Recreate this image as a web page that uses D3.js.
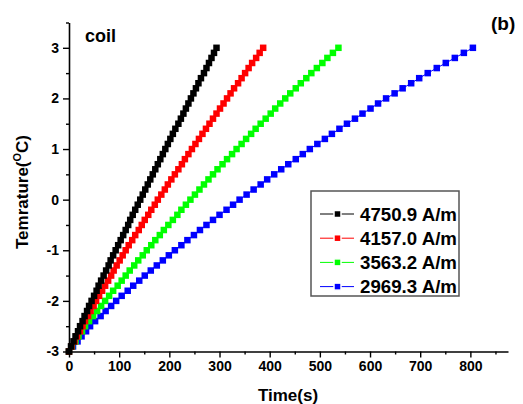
<!DOCTYPE html>
<html><head><meta charset="utf-8">
<script src="https://cdn.jsdelivr.net/npm/d3@7"></script>
<style>
html,body{margin:0;padding:0;background:#fff;}
svg{display:block;font-family:"Liberation Sans",Arial,sans-serif;font-weight:bold;}
</style></head>
<body>
<svg id="chart" width="523" height="404"></svg>
<script>
// Temperature grid (°C) shared by all series
const temps = [-3.0,-2.9,-2.8,-2.7,-2.6,-2.5,-2.4,-2.3,-2.2,-2.1,-2.0,-1.9,-1.8,-1.7,-1.6,-1.5,-1.4,-1.3,-1.2,-1.1,-1.0,-0.9,-0.8,-0.7,-0.6,-0.5,-0.4,-0.3,-0.2,-0.1,0.0,0.1,0.2,0.3,0.4,0.5,0.6,0.7,0.8,0.9,1.0,1.1,1.2,1.3,1.4,1.5,1.6,1.7,1.8,1.9,2.0,2.1,2.2,2.3,2.4,2.5,2.6,2.7,2.8,2.9,3.0];
// Time (s) at each temperature
const t4750 = [0,4,9,13,18,22,27,31,36,40,45,50,55,59,64,69,74,79,83,88,93,98,103,108,113,118,122,127,132,137,142,147,152,157,162,167,172,177,182,187,192,197,202,207,212,218,223,228,233,238,243,248,253,258,263,269,274,279,284,289,294];
const t4157 = [0,5,11,16,22,27,32,38,43,49,54,60,66,72,78,84,89,95,101,107,113,119,126,132,139,145,151,158,164,171,177,184,191,197,204,211,218,225,231,238,245,252,259,266,273,280,287,294,301,308,315,322,329,337,344,351,358,365,373,380,387];
const t3563 = [0,6,13,19,26,32,40,48,56,64,72,80,88,97,105,113,121,130,138,147,155,164,172,181,189,198,207,216,224,233,242,251,260,269,278,287,296,306,315,325,334,344,353,363,372,382,392,402,411,421,431,441,452,462,473,483,494,505,515,526,537];
const t2969 = [0,8,17,25,34,42,52,63,73,84,94,105,117,128,140,151,163,175,187,199,211,224,236,249,261,274,287,300,314,327,340,354,368,382,395,409,423,437,452,466,480,495,510,524,539,554,570,585,601,616,632,649,665,682,698,715,733,751,769,787,805];

const seriesNames = ["4750.9 A/m","4157.0 A/m","3563.2 A/m","2969.3 A/m"];
const seriesColors = ["#000000","#ff0000","#00ff00","#0000ff"];
const seriesTimes = [t4750, t4157, t3563, t2969];

const xTicks = [0,100,200,300,400,500,600,700,800];
const yTicks = [-3,-2,-1,0,1,2,3];
const yTickLabels = ["-3","-2","-1","0","1","2","3"];

const svg = d3.select("#chart");
const x = d3.scaleLinear().domain([0, 875]).range([69, 508]);
const y = d3.scaleLinear().domain([-3, 3.5]).range([351.5, 22.5]);

// series (lines + square markers); draw blue first so black stays on top
const order = [3,2,1,0];
const line = d3.line().x(d => x(d[0])).y(d => y(d[1]));
order.forEach(i => {
  const pts = seriesTimes[i].map((t, k) => [t, temps[k]]);
  const g = svg.append("g");
  g.append("path").attr("d", line(pts)).attr("fill", "none")
    .attr("stroke", seriesColors[i]).attr("stroke-width", 1);
  const s = 6.5;
  g.selectAll("rect").data(pts).enter().append("rect")
    .attr("x", d => x(d[0]) - s/2).attr("y", d => y(d[1]) - s/2)
    .attr("width", s).attr("height", s).attr("fill", seriesColors[i]);
});

// axes
const xMinor = d3.range(50, 875, 100);
const yMinor = [-2.5,-1.5,-0.5,0.5,1.5,2.5,3.5];

const xAxis = svg.append("g").attr("transform", "translate(0,351.5)")
  .call(d3.axisBottom(x).tickValues(xTicks).tickFormat(d => String(d))
    .tickSize(6).tickSizeOuter(0).tickPadding(3));
svg.append("g").attr("transform", "translate(0,351.5)")
  .call(d3.axisBottom(x).tickValues(xMinor).tickSize(3).tickFormat("").tickSizeOuter(0))
  .select(".domain").remove();
const yAxis = svg.append("g").attr("transform", "translate(69,0)")
  .call(d3.axisLeft(y).tickValues(yTicks).tickFormat((d, i) => yTickLabels[i])
    .tickSize(6).tickSizeOuter(0).tickPadding(4));
svg.append("g").attr("transform", "translate(69,0)")
  .call(d3.axisLeft(y).tickValues(yMinor).tickSize(3).tickFormat("").tickSizeOuter(0))
  .select(".domain").remove();

svg.selectAll(".domain").attr("stroke", "#000").attr("stroke-width", 1.6);
svg.selectAll(".tick line").attr("stroke", "#000").attr("stroke-width", 1.4);
svg.selectAll(".tick text").attr("fill", "#000")
  .style("font-family", "'Liberation Sans',Arial,sans-serif")
  .style("font-weight", "bold").style("font-size", "14px");
xAxis.selectAll(".tick text").attr("dy", "0.75em");

// axis titles
svg.append("text").attr("x", 288).attr("y", 401).attr("text-anchor", "middle")
  .style("font-size", "17px").text("Time(s)");
const yt = svg.append("text").attr("transform", "translate(28,192) rotate(-90)")
  .attr("text-anchor", "middle").style("font-size", "17px");
yt.append("tspan").text("Temrature(");
yt.append("tspan").attr("dy", -7).style("font-size", "11px").text("O");
yt.append("tspan").attr("dy", 7).text("C)");

// annotations
svg.append("text").attr("x", 85).attr("y", 42).style("font-size", "18px").text("coil");
svg.append("text").attr("x", 491).attr("y", 30).style("font-size", "19px").text("(b)");

// legend
const lg = svg.append("g");
lg.append("rect").attr("x", 311).attr("y", 191).attr("width", 148).attr("height", 105)
  .attr("fill", "#fff").attr("stroke", "#555").attr("stroke-width", 1.5);
seriesNames.forEach((name, i) => {
  const cy = 214 + i * 24.2;
  lg.append("line").attr("x1", 320).attr("x2", 354).attr("y1", cy).attr("y2", cy)
    .attr("stroke", seriesColors[i]).attr("stroke-width", 1);
  lg.append("rect").attr("x", 334).attr("y", cy - 3.5).attr("width", 7).attr("height", 7)
    .attr("fill", seriesColors[i]).attr("stroke", "#fff").attr("stroke-width", 1.5);
  lg.append("text").attr("x", 360).attr("y", cy + 6.5).style("font-size", "18px")
    .attr("textLength", 97).attr("lengthAdjust", "spacingAndGlyphs").text(name);
});
</script>
</body></html>
